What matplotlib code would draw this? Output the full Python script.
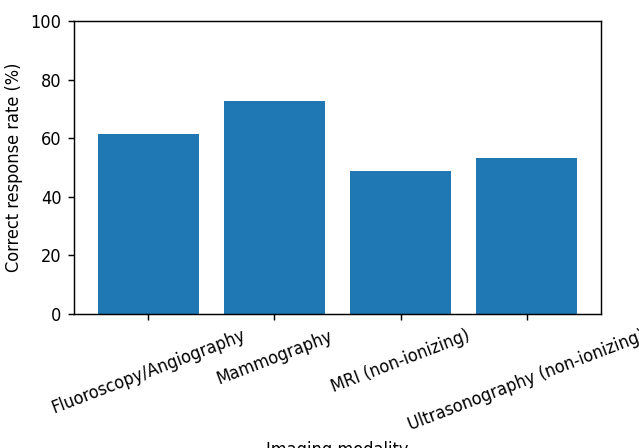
import matplotlib
matplotlib.use("Agg")
import matplotlib.pyplot as plt
from matplotlib import font_manager

modalities = [
    "Fluoroscopy/Angiography",
    "Mammography",
    "MRI (non-ionizing)",
    "Ultrasonography (non-ionizing)",
]
correct_rate = [61.4, 72.7, 48.9, 53.3]

# reference text looks narrower than plain DejaVu Sans
names = {f.name for f in font_manager.fontManager.ttflist}
if "DejaVu Sans Condensed" in names:
    plt.rcParams["font.family"] = "DejaVu Sans Condensed"
else:
    plt.rcParams["font.stretch"] = "condensed"

DPI = 130
fig, ax = plt.subplots(figsize=(639 / DPI, 448 / DPI), dpi=DPI)
fig.subplots_adjust(left=74 / 639, right=601 / 639, top=1 - 21 / 448, bottom=1 - 314 / 448)

ax.bar(modalities, correct_rate, color="#1f77b4")
ax.set_ylim(0, 100)
ax.set_ylabel("Correct response rate (%)")
ax.set_xlabel("Imaging modality")
plt.setp(ax.get_xticklabels(), rotation=21, ha="center")

fig.savefig("out.png", dpi=DPI)
